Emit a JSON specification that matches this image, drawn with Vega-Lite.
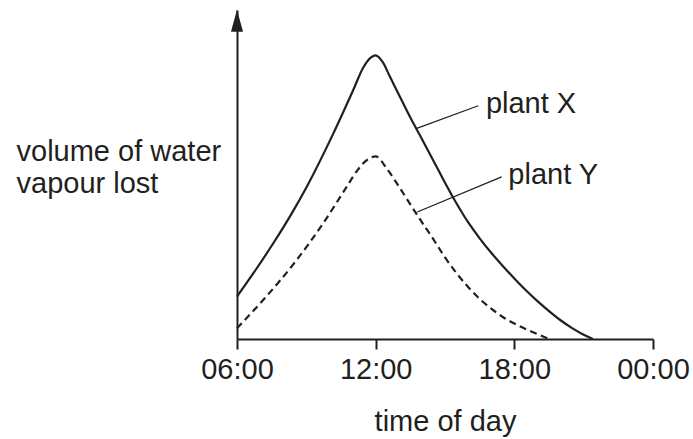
{
  "$schema": "https://vega.github.io/schema/vega-lite/v6.json",
  "width": 416,
  "height": 329,
  "autosize": {"type": "none"},
  "padding": {"left": 237, "top": 10, "right": 40, "bottom": 100},
  "background": "white",
  "config": {
    "view": {"stroke": null},
    "font": "Liberation Sans",
    "axis": {"grid": false, "domainColor": "#231f20", "domainWidth": 2, "tickColor": "#231f20", "tickWidth": 2, "labelColor": "#231f20", "titleColor": "#231f20", "labelFont": "Liberation Sans", "titleFont": "Liberation Sans", "titleFontWeight": "normal"}
  },
  "datasets": {
    "curves": [
      {"series": "plant X", "h": 6.0, "v": 12.9},
      {"series": "plant X", "h": 6.71, "v": 20.0},
      {"series": "plant X", "h": 7.57, "v": 29.1},
      {"series": "plant X", "h": 8.37, "v": 38.2},
      {"series": "plant X", "h": 9.02, "v": 46.3},
      {"series": "plant X", "h": 10.17, "v": 62.5},
      {"series": "plant X", "h": 11.03, "v": 75.7},
      {"series": "plant X", "h": 11.47, "v": 82.6},
      {"series": "plant X", "h": 11.8, "v": 85.6},
      {"series": "plant X", "h": 12.0, "v": 86.2},
      {"series": "plant X", "h": 12.3, "v": 84.2},
      {"series": "plant X", "h": 12.62, "v": 79.7},
      {"series": "plant X", "h": 13.05, "v": 73.6},
      {"series": "plant X", "h": 13.5, "v": 67.3},
      {"series": "plant X", "h": 14.0, "v": 60.8},
      {"series": "plant X", "h": 14.5, "v": 54.2},
      {"series": "plant X", "h": 15.0, "v": 47.5},
      {"series": "plant X", "h": 15.5, "v": 41.2},
      {"series": "plant X", "h": 16.0, "v": 35.5},
      {"series": "plant X", "h": 16.5, "v": 30.6},
      {"series": "plant X", "h": 17.0, "v": 26.2},
      {"series": "plant X", "h": 17.5, "v": 22.2},
      {"series": "plant X", "h": 18.0, "v": 18.4},
      {"series": "plant X", "h": 18.5, "v": 14.8},
      {"series": "plant X", "h": 19.0, "v": 11.5},
      {"series": "plant X", "h": 19.5, "v": 8.5},
      {"series": "plant X", "h": 20.0, "v": 5.7},
      {"series": "plant X", "h": 20.5, "v": 3.3},
      {"series": "plant X", "h": 21.0, "v": 1.3},
      {"series": "plant X", "h": 21.4, "v": 0.0},
      {"series": "plant Y", "h": 6.0, "v": 3.3},
      {"series": "plant Y", "h": 7.14, "v": 11.9},
      {"series": "plant Y", "h": 8.58, "v": 24.0},
      {"series": "plant Y", "h": 9.73, "v": 35.2},
      {"series": "plant Y", "h": 10.75, "v": 46.3},
      {"series": "plant Y", "h": 11.2, "v": 51.2},
      {"series": "plant Y", "h": 11.55, "v": 54.0},
      {"series": "plant Y", "h": 12.0, "v": 55.5},
      {"series": "plant Y", "h": 12.5, "v": 51.6},
      {"series": "plant Y", "h": 13.0, "v": 46.4},
      {"series": "plant Y", "h": 13.5, "v": 40.9},
      {"series": "plant Y", "h": 14.0, "v": 35.5},
      {"series": "plant Y", "h": 14.5, "v": 30.3},
      {"series": "plant Y", "h": 15.0, "v": 24.8},
      {"series": "plant Y", "h": 15.5, "v": 20.0},
      {"series": "plant Y", "h": 16.0, "v": 15.8},
      {"series": "plant Y", "h": 16.5, "v": 12.2},
      {"series": "plant Y", "h": 17.0, "v": 9.2},
      {"series": "plant Y", "h": 17.5, "v": 6.7},
      {"series": "plant Y", "h": 18.0, "v": 4.7},
      {"series": "plant Y", "h": 18.5, "v": 3.0},
      {"series": "plant Y", "h": 19.0, "v": 1.5},
      {"series": "plant Y", "h": 19.5, "v": 0.0}
    ],
    "leaders": [
      {"series": "plant X", "h": 13.78, "v": 64.0, "h2": 16.44, "v2": 70.9},
      {"series": "plant Y", "h": 13.8, "v": 38.6, "h2": 17.45, "v2": 49.3}
    ],
    "labels": [
      {"label": "plant X", "h": 16.77, "v": 68.8},
      {"label": "plant Y", "h": 17.74, "v": 47.1}
    ],
    "arrow": [
      {"h": 6, "v": 96.7}
    ]
  },
  "layer": [
    {
      "data": {"name": "curves"},
      "transform": [{"filter": "datum.series === 'plant X'"}],
      "mark": {"type": "line", "interpolate": "monotone", "color": "#231f20", "strokeWidth": 2.2},
      "encoding": {
        "x": {
          "field": "h", "type": "quantitative",
          "scale": {"domain": [6, 24], "nice": false, "zero": false},
          "axis": {
            "values": [6, 12, 18, 24],
            "labelExpr": "datum.value == 24 ? '00:00' : (datum.value < 10 ? '0' : '') + datum.value + ':00'",
            "tickSize": 10,
            "labelPadding": 6,
            "labelFontSize": 29,
            "labelFlush": false,
            "labelOverlap": false,
            "title": "time of day",
            "titleFontSize": 29,
            "titleBaseline": "alphabetic",
            "titleY": 91
          }
        },
        "y": {
          "field": "v", "type": "quantitative",
          "scale": {"domain": [0, 100], "nice": false},
          "axis": {
            "ticks": false,
            "labels": false,
            "title": ["volume of water", "vapour lost"],
            "titleFontSize": 29,
            "titleAngle": 0,
            "titleAlign": "left",
            "titleBaseline": "alphabetic",
            "titleLineHeight": 32,
            "titleX": -221,
            "titleY": 150
          }
        }
      }
    },
    {
      "data": {"name": "curves"},
      "transform": [{"filter": "datum.series === 'plant Y'"}],
      "mark": {"type": "line", "interpolate": "monotone", "color": "#231f20", "strokeWidth": 2.2, "strokeDash": [7, 4.5]},
      "encoding": {
        "x": {"field": "h", "type": "quantitative"},
        "y": {"field": "v", "type": "quantitative"}
      }
    },
    {
      "data": {"name": "leaders"},
      "mark": {"type": "rule", "color": "#231f20", "strokeWidth": 1.3},
      "encoding": {
        "x": {"field": "h", "type": "quantitative"},
        "y": {"field": "v", "type": "quantitative"},
        "x2": {"field": "h2"},
        "y2": {"field": "v2"}
      }
    },
    {
      "data": {"name": "labels"},
      "mark": {"type": "text", "align": "left", "baseline": "alphabetic", "fontSize": 29, "font": "Liberation Sans", "color": "#231f20"},
      "encoding": {
        "x": {"field": "h", "type": "quantitative"},
        "y": {"field": "v", "type": "quantitative"},
        "text": {"field": "label"}
      }
    },
    {
      "data": {"name": "arrow"},
      "mark": {"type": "point", "shape": "M0,-1L0.55,1L-0.55,1Z", "filled": true, "color": "#231f20", "opacity": 1, "size": 484, "strokeWidth": 0, "clip": false},
      "encoding": {
        "x": {"field": "h", "type": "quantitative"},
        "y": {"field": "v", "type": "quantitative"}
      }
    }
  ]
}
